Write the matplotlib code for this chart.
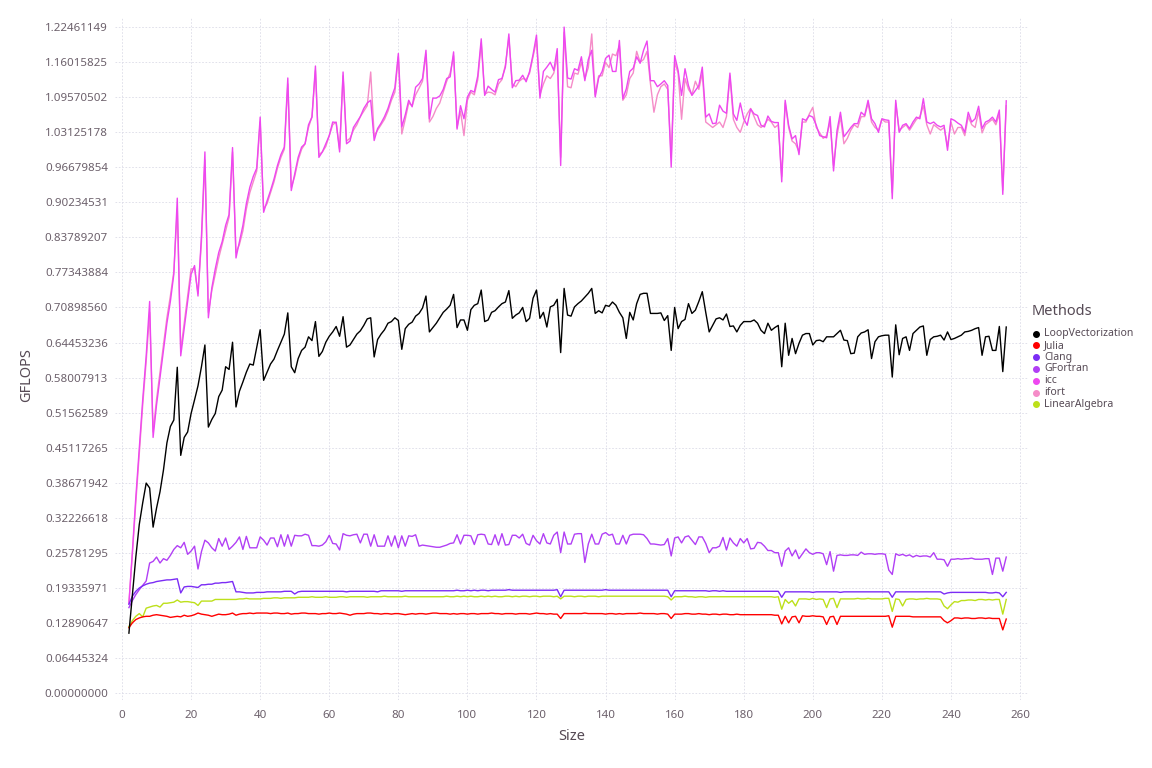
import numpy as np
import matplotlib
matplotlib.use("Agg")
import matplotlib.pyplot as plt
from matplotlib.lines import Line2D

plt.rcParams['font.family'] = ['Noto Sans', 'DejaVu Sans']

sizes = list(range(2, 257))

loop_vectorization = [
    0.110, 0.180, 0.250, 0.310, 0.350, 0.386, 0.377, 0.305, 0.340, 0.370,
    0.410, 0.460, 0.490, 0.502, 0.599, 0.437, 0.470, 0.480, 0.514, 0.539,
    0.565, 0.600, 0.640, 0.489, 0.503, 0.514, 0.545, 0.557, 0.600, 0.595,
    0.645, 0.526, 0.555, 0.572, 0.590, 0.605, 0.603, 0.635, 0.668, 0.575,
    0.590, 0.605, 0.614, 0.630, 0.645, 0.660, 0.699, 0.600, 0.589, 0.615,
    0.630, 0.636, 0.655, 0.648, 0.683, 0.619, 0.628, 0.645, 0.656, 0.664,
    0.674, 0.656, 0.692, 0.636, 0.640, 0.650, 0.660, 0.666, 0.676, 0.688,
    0.690, 0.618, 0.650, 0.660, 0.668, 0.680, 0.683, 0.690, 0.685, 0.632,
    0.670, 0.678, 0.682, 0.693, 0.698, 0.708, 0.730, 0.664, 0.672, 0.680,
    0.690, 0.700, 0.706, 0.713, 0.733, 0.672, 0.686, 0.686, 0.667, 0.705,
    0.713, 0.716, 0.741, 0.683, 0.686, 0.700, 0.703, 0.710, 0.716, 0.719,
    0.740, 0.689, 0.695, 0.699, 0.709, 0.683, 0.689, 0.726, 0.741, 0.689,
    0.700, 0.673, 0.710, 0.713, 0.724, 0.626, 0.744, 0.695, 0.693, 0.710,
    0.716, 0.721, 0.728, 0.735, 0.744, 0.698, 0.703, 0.699, 0.713, 0.711,
    0.719, 0.713, 0.700, 0.690, 0.652, 0.700, 0.686, 0.716, 0.733, 0.735,
    0.735, 0.698, 0.698, 0.698, 0.699, 0.685, 0.694, 0.630, 0.709, 0.670,
    0.683, 0.687, 0.716, 0.698, 0.704, 0.720, 0.738, 0.700, 0.664, 0.676,
    0.688, 0.690, 0.686, 0.697, 0.674, 0.675, 0.664, 0.676, 0.683, 0.683,
    0.683, 0.686, 0.680, 0.667, 0.661, 0.680, 0.667, 0.672, 0.676, 0.600,
    0.680, 0.621, 0.652, 0.624, 0.643, 0.658, 0.661, 0.661, 0.640, 0.648,
    0.649, 0.646, 0.655, 0.655, 0.655, 0.661, 0.667, 0.649, 0.648, 0.624,
    0.625, 0.655, 0.662, 0.664, 0.668, 0.615, 0.646, 0.655, 0.657, 0.658,
    0.658, 0.581, 0.677, 0.622, 0.652, 0.655, 0.630, 0.661, 0.667, 0.673,
    0.675, 0.621, 0.650, 0.655, 0.656, 0.658, 0.649, 0.664, 0.650, 0.652,
    0.655, 0.658, 0.664, 0.665, 0.667, 0.670, 0.672, 0.621, 0.655, 0.656,
    0.630, 0.630, 0.674, 0.591, 0.673,
]

julia = [
    0.120, 0.129, 0.135, 0.138, 0.140, 0.141, 0.141, 0.143, 0.144, 0.143,
    0.142, 0.141, 0.139, 0.140, 0.141, 0.140, 0.143, 0.141, 0.142, 0.144,
    0.147, 0.145, 0.144, 0.143, 0.141, 0.143, 0.145, 0.144, 0.144, 0.145,
    0.147, 0.143, 0.145, 0.146, 0.146, 0.147, 0.146, 0.147, 0.147, 0.147,
    0.147, 0.146, 0.147, 0.147, 0.146, 0.146, 0.147, 0.145, 0.146, 0.146,
    0.147, 0.147, 0.146, 0.146, 0.146, 0.145, 0.146, 0.146, 0.147, 0.146,
    0.146, 0.147, 0.146, 0.145, 0.143, 0.145, 0.146, 0.146, 0.146, 0.147,
    0.147, 0.146, 0.146, 0.145, 0.146, 0.146, 0.145, 0.146, 0.146, 0.145,
    0.144, 0.145, 0.146, 0.145, 0.146, 0.146, 0.145, 0.146, 0.147, 0.147,
    0.146, 0.146, 0.146, 0.145, 0.146, 0.145, 0.146, 0.146, 0.145, 0.146,
    0.146, 0.145, 0.146, 0.146, 0.146, 0.147, 0.146, 0.146, 0.145, 0.146,
    0.146, 0.146, 0.145, 0.146, 0.146, 0.146, 0.145, 0.146, 0.147, 0.146,
    0.146, 0.145, 0.146, 0.145, 0.145, 0.137, 0.146, 0.146, 0.146, 0.146,
    0.146, 0.146, 0.147, 0.146, 0.146, 0.146, 0.146, 0.146, 0.145, 0.146,
    0.146, 0.145, 0.146, 0.145, 0.146, 0.146, 0.146, 0.146, 0.147, 0.146,
    0.146, 0.146, 0.146, 0.145, 0.146, 0.146, 0.145, 0.137, 0.145, 0.145,
    0.145, 0.146, 0.146, 0.145, 0.145, 0.146, 0.145, 0.145, 0.144, 0.145,
    0.145, 0.144, 0.145, 0.145, 0.144, 0.144, 0.145, 0.144, 0.144, 0.144,
    0.144, 0.144, 0.144, 0.144, 0.144, 0.144, 0.144, 0.143, 0.143, 0.127,
    0.141, 0.129, 0.140, 0.141, 0.129, 0.142, 0.141, 0.141, 0.142, 0.141,
    0.141, 0.140, 0.126, 0.140, 0.141, 0.126, 0.141, 0.141, 0.141, 0.141,
    0.141, 0.141, 0.141, 0.141, 0.141, 0.141, 0.141, 0.141, 0.141, 0.141,
    0.142, 0.121, 0.141, 0.141, 0.141, 0.141, 0.141, 0.140, 0.140, 0.140,
    0.140, 0.140, 0.140, 0.140, 0.140, 0.140, 0.133, 0.129, 0.133, 0.138,
    0.138, 0.137, 0.138, 0.138, 0.137, 0.137, 0.138, 0.138, 0.137, 0.138,
    0.137, 0.137, 0.137, 0.116, 0.136,
]

clang = [
    0.163, 0.178, 0.187, 0.193, 0.197, 0.200, 0.202, 0.203, 0.205, 0.206,
    0.207, 0.208, 0.208, 0.209, 0.210, 0.184, 0.195, 0.196, 0.196, 0.195,
    0.194, 0.199, 0.199, 0.200, 0.200, 0.202, 0.202, 0.203, 0.203, 0.204,
    0.205, 0.186, 0.186, 0.185, 0.184, 0.184, 0.184, 0.185, 0.185, 0.185,
    0.186, 0.186, 0.186, 0.186, 0.186, 0.187, 0.187, 0.187, 0.182, 0.186,
    0.187, 0.187, 0.187, 0.187, 0.187, 0.187, 0.187, 0.187, 0.187, 0.187,
    0.187, 0.187, 0.187, 0.186, 0.187, 0.187, 0.187, 0.187, 0.187, 0.187,
    0.187, 0.187, 0.186, 0.188, 0.188, 0.188, 0.188, 0.188, 0.188, 0.187,
    0.188, 0.188, 0.188, 0.188, 0.188, 0.188, 0.188, 0.188, 0.188, 0.188,
    0.188, 0.188, 0.188, 0.188, 0.188, 0.189, 0.188, 0.188, 0.189, 0.188,
    0.189, 0.188, 0.189, 0.189, 0.188, 0.189, 0.189, 0.189, 0.189, 0.189,
    0.190, 0.189, 0.189, 0.189, 0.189, 0.189, 0.189, 0.189, 0.189, 0.189,
    0.189, 0.189, 0.189, 0.189, 0.190, 0.177, 0.189, 0.189, 0.189, 0.189,
    0.189, 0.189, 0.189, 0.189, 0.189, 0.189, 0.189, 0.189, 0.190, 0.189,
    0.189, 0.189, 0.189, 0.189, 0.189, 0.189, 0.189, 0.189, 0.189, 0.189,
    0.189, 0.189, 0.189, 0.189, 0.189, 0.189, 0.189, 0.177, 0.188, 0.188,
    0.188, 0.188, 0.188, 0.188, 0.188, 0.188, 0.188, 0.188, 0.187, 0.188,
    0.188, 0.187, 0.188, 0.187, 0.187, 0.187, 0.187, 0.187, 0.187, 0.187,
    0.187, 0.187, 0.187, 0.187, 0.187, 0.187, 0.187, 0.187, 0.187, 0.176,
    0.186, 0.186, 0.186, 0.186, 0.186, 0.186, 0.186, 0.186, 0.185, 0.186,
    0.186, 0.186, 0.186, 0.186, 0.186, 0.186, 0.185, 0.186, 0.186, 0.186,
    0.186, 0.186, 0.186, 0.186, 0.186, 0.186, 0.186, 0.186, 0.186, 0.186,
    0.186, 0.176, 0.186, 0.186, 0.186, 0.186, 0.186, 0.186, 0.186, 0.186,
    0.186, 0.186, 0.186, 0.186, 0.186, 0.186, 0.182, 0.184, 0.185, 0.185,
    0.185, 0.185, 0.185, 0.185, 0.185, 0.185, 0.185, 0.185, 0.185, 0.184,
    0.184, 0.185, 0.184, 0.177, 0.185,
]

gfortran = [
    0.157, 0.170, 0.181, 0.190, 0.198, 0.206, 0.239, 0.242, 0.250, 0.239,
    0.247, 0.244, 0.253, 0.264, 0.271, 0.267, 0.277, 0.255, 0.261, 0.270,
    0.228, 0.260, 0.281, 0.276, 0.267, 0.261, 0.284, 0.270, 0.285, 0.264,
    0.270, 0.277, 0.287, 0.264, 0.288, 0.267, 0.267, 0.267, 0.287, 0.281,
    0.272, 0.285, 0.285, 0.269, 0.291, 0.270, 0.291, 0.270, 0.290, 0.289,
    0.289, 0.292, 0.290, 0.271, 0.271, 0.270, 0.272, 0.278, 0.290, 0.275,
    0.274, 0.263, 0.293, 0.290, 0.289, 0.291, 0.292, 0.276, 0.292, 0.292,
    0.270, 0.291, 0.270, 0.270, 0.270, 0.289, 0.270, 0.289, 0.267, 0.289,
    0.270, 0.289, 0.288, 0.291, 0.270, 0.272, 0.271, 0.270, 0.269, 0.268,
    0.268, 0.270, 0.272, 0.275, 0.276, 0.291, 0.274, 0.290, 0.290, 0.289,
    0.273, 0.291, 0.292, 0.291, 0.274, 0.273, 0.291, 0.272, 0.293, 0.272,
    0.273, 0.290, 0.290, 0.285, 0.292, 0.275, 0.272, 0.290, 0.280, 0.274,
    0.293, 0.276, 0.274, 0.290, 0.296, 0.258, 0.296, 0.274, 0.274, 0.292,
    0.293, 0.293, 0.240, 0.274, 0.292, 0.274, 0.274, 0.292, 0.295, 0.290,
    0.292, 0.274, 0.274, 0.290, 0.274, 0.290, 0.292, 0.292, 0.292, 0.291,
    0.284, 0.274, 0.274, 0.273, 0.272, 0.273, 0.284, 0.252, 0.285, 0.287,
    0.276, 0.287, 0.289, 0.281, 0.273, 0.287, 0.287, 0.275, 0.258, 0.267,
    0.267, 0.270, 0.286, 0.263, 0.285, 0.276, 0.270, 0.284, 0.276, 0.284,
    0.265, 0.266, 0.277, 0.276, 0.270, 0.262, 0.262, 0.258, 0.258, 0.233,
    0.261, 0.267, 0.252, 0.263, 0.247, 0.256, 0.265, 0.258, 0.255, 0.258,
    0.258, 0.256, 0.236, 0.260, 0.224, 0.253, 0.254, 0.253, 0.253, 0.254,
    0.254, 0.253, 0.259, 0.255, 0.256, 0.256, 0.255, 0.256, 0.256, 0.255,
    0.226, 0.218, 0.256, 0.253, 0.255, 0.252, 0.254, 0.250, 0.253, 0.251,
    0.252, 0.252, 0.250, 0.258, 0.246, 0.246, 0.245, 0.233, 0.246, 0.246,
    0.247, 0.246, 0.247, 0.247, 0.248, 0.246, 0.246, 0.246, 0.247, 0.247,
    0.218, 0.248, 0.248, 0.224, 0.250,
]

icc = [
    0.165, 0.260, 0.360, 0.450, 0.540, 0.620, 0.720, 0.470, 0.530, 0.580,
    0.630, 0.680, 0.720, 0.770, 0.910, 0.620, 0.670, 0.720, 0.770, 0.786,
    0.730, 0.840, 0.995, 0.690, 0.745, 0.780, 0.810, 0.830, 0.860, 0.880,
    1.003, 0.800, 0.830, 0.860, 0.900, 0.930, 0.950, 0.965, 1.059, 0.884,
    0.905, 0.924, 0.945, 0.970, 0.990, 1.004, 1.131, 0.924, 0.955, 0.985,
    1.004, 1.010, 1.045, 1.059, 1.153, 0.985, 0.995, 1.010, 1.025, 1.050,
    1.049, 0.995, 1.142, 1.010, 1.015, 1.040, 1.050, 1.060, 1.075, 1.085,
    1.090, 1.016, 1.038, 1.048, 1.060, 1.075, 1.095, 1.113, 1.176, 1.041,
    1.063, 1.090, 1.078, 1.114, 1.120, 1.130, 1.182, 1.056, 1.094, 1.094,
    1.098, 1.110, 1.130, 1.133, 1.179, 1.037, 1.080, 1.056, 1.096, 1.108,
    1.105, 1.135, 1.203, 1.099, 1.116, 1.110, 1.105, 1.128, 1.130, 1.151,
    1.212, 1.113, 1.126, 1.127, 1.136, 1.124, 1.143, 1.174, 1.210, 1.094,
    1.143, 1.151, 1.160, 1.145, 1.185, 0.970, 1.2246, 1.131, 1.129, 1.148,
    1.145, 1.170, 1.126, 1.165, 1.182, 1.096, 1.131, 1.143, 1.167, 1.173,
    1.143, 1.143, 1.200, 1.093, 1.111, 1.143, 1.149, 1.170, 1.158, 1.182,
    1.199, 1.126, 1.126, 1.115, 1.120, 1.126, 1.117, 0.967, 1.172, 1.145,
    1.099, 1.148, 1.117, 1.099, 1.108, 1.117, 1.151, 1.059, 1.065, 1.047,
    1.048, 1.081, 1.070, 1.066, 1.140, 1.065, 1.053, 1.085, 1.056, 1.044,
    1.074, 1.065, 1.062, 1.044, 1.041, 1.061, 1.051, 1.049, 1.049, 0.940,
    1.090, 1.044, 1.019, 1.025, 0.990, 1.056, 1.053, 1.062, 1.059, 1.044,
    1.025, 1.023, 1.021, 1.060, 0.960, 1.034, 1.068, 1.023, 1.031, 1.040,
    1.047, 1.047, 1.068, 1.062, 1.090, 1.056, 1.047, 1.031, 1.056, 1.054,
    1.053, 0.909, 1.090, 1.031, 1.044, 1.047, 1.038, 1.050, 1.059, 1.056,
    1.093, 1.050, 1.047, 1.050, 1.044, 1.041, 1.044, 0.998, 1.056, 1.053,
    1.048, 1.044, 1.031, 1.068, 1.050, 1.056, 1.079, 1.038, 1.050, 1.053,
    1.059, 1.050, 1.072, 0.917, 1.089,
]

ifort = [
    0.165, 0.255, 0.350, 0.440, 0.530, 0.610, 0.700, 0.480, 0.540, 0.590,
    0.640, 0.690, 0.730, 0.775, 0.890, 0.630, 0.680, 0.730, 0.780, 0.780,
    0.735, 0.830, 0.980, 0.700, 0.740, 0.770, 0.800, 0.825, 0.850, 0.875,
    0.995, 0.810, 0.825, 0.850, 0.890, 0.920, 0.940, 0.960, 1.050, 0.890,
    0.900, 0.920, 0.940, 0.965, 0.985, 1.000, 1.120, 0.930, 0.950, 0.980,
    1.000, 1.010, 1.040, 1.060, 1.145, 0.990, 0.995, 1.005, 1.025, 1.045,
    1.050, 1.000, 1.135, 1.015, 1.020, 1.035, 1.045, 1.060, 1.070, 1.080,
    1.142, 1.025, 1.035, 1.045, 1.055, 1.070, 1.090, 1.105, 1.170, 1.028,
    1.055, 1.085, 1.080, 1.100, 1.112, 1.125, 1.175, 1.050, 1.060, 1.075,
    1.085, 1.105, 1.125, 1.140, 1.172, 1.040, 1.070, 1.025, 1.090, 1.105,
    1.100, 1.128, 1.195, 1.101, 1.105, 1.104, 1.100, 1.120, 1.128, 1.155,
    1.205, 1.120, 1.115, 1.125, 1.130, 1.128, 1.140, 1.170, 1.200, 1.100,
    1.120, 1.135, 1.130, 1.140, 1.170, 0.985, 1.215, 1.115, 1.113, 1.140,
    1.138, 1.160, 1.130, 1.150, 1.212, 1.100, 1.135, 1.135, 1.160, 1.150,
    1.175, 1.172, 1.190, 1.090, 1.100, 1.130, 1.140, 1.180, 1.160, 1.165,
    1.180, 1.120, 1.068, 1.100, 1.115, 1.120, 1.110, 0.985, 1.160, 1.140,
    1.055, 1.130, 1.110, 1.100, 1.125, 1.110, 1.140, 1.050, 1.045, 1.040,
    1.045, 1.050, 1.040, 1.060, 1.135, 1.055, 1.040, 1.031, 1.050, 1.065,
    1.075, 1.060, 1.045, 1.040, 1.045, 1.055, 1.050, 1.040, 1.045, 0.950,
    1.085, 1.040, 1.015, 1.010, 0.995, 1.050, 1.050, 1.065, 1.077, 1.040,
    1.030, 1.020, 1.025, 1.050, 0.970, 1.025, 1.060, 1.010, 1.020, 1.035,
    1.045, 1.040, 1.060, 1.060, 1.085, 1.050, 1.040, 1.035, 1.055, 1.050,
    1.050, 0.920, 1.085, 1.035, 1.040, 1.045, 1.035, 1.045, 1.055, 1.060,
    1.080, 1.045, 1.028, 1.045, 1.040, 1.035, 1.040, 1.005, 1.050, 1.028,
    1.040, 1.040, 1.025, 1.060, 1.045, 1.040, 1.070, 1.030, 1.045, 1.050,
    1.055, 1.045, 1.065, 0.925, 1.080,
]

linear_algebra = [
    0.122, 0.133, 0.141, 0.146, 0.140, 0.156, 0.158, 0.160, 0.161, 0.158,
    0.165, 0.165, 0.166, 0.167, 0.171, 0.167, 0.168, 0.168, 0.167, 0.166,
    0.161, 0.169, 0.169, 0.169, 0.169, 0.172, 0.172, 0.172, 0.172, 0.172,
    0.172, 0.172, 0.173, 0.173, 0.174, 0.173, 0.173, 0.173, 0.173, 0.174,
    0.174, 0.174, 0.175, 0.175, 0.174, 0.175, 0.175, 0.175, 0.175, 0.176,
    0.176, 0.176, 0.176, 0.177, 0.176, 0.176, 0.176, 0.177, 0.176, 0.176,
    0.176, 0.177, 0.177, 0.176, 0.177, 0.177, 0.177, 0.177, 0.177, 0.176,
    0.177, 0.177, 0.177, 0.177, 0.178, 0.177, 0.177, 0.177, 0.177, 0.177,
    0.178, 0.177, 0.177, 0.177, 0.177, 0.177, 0.177, 0.177, 0.177, 0.177,
    0.177, 0.177, 0.178, 0.177, 0.177, 0.178, 0.177, 0.178, 0.177, 0.178,
    0.177, 0.177, 0.178, 0.177, 0.178, 0.177, 0.178, 0.177, 0.177, 0.178,
    0.178, 0.177, 0.178, 0.177, 0.178, 0.178, 0.177, 0.178, 0.178, 0.177,
    0.178, 0.178, 0.178, 0.177, 0.178, 0.173, 0.178, 0.178, 0.178, 0.177,
    0.178, 0.178, 0.177, 0.178, 0.178, 0.178, 0.177, 0.178, 0.178, 0.178,
    0.178, 0.178, 0.178, 0.178, 0.178, 0.178, 0.178, 0.178, 0.178, 0.178,
    0.178, 0.178, 0.178, 0.178, 0.178, 0.178, 0.177, 0.171, 0.177, 0.177,
    0.177, 0.178, 0.177, 0.177, 0.176, 0.177, 0.177, 0.176, 0.177, 0.177,
    0.177, 0.177, 0.177, 0.177, 0.177, 0.177, 0.177, 0.177, 0.177, 0.177,
    0.177, 0.177, 0.177, 0.177, 0.177, 0.177, 0.177, 0.176, 0.177, 0.154,
    0.172, 0.165, 0.170, 0.160, 0.173, 0.173, 0.173, 0.172, 0.174, 0.172,
    0.173, 0.172, 0.157, 0.173, 0.174, 0.157, 0.173, 0.173, 0.173, 0.173,
    0.173, 0.174, 0.173, 0.173, 0.174, 0.173, 0.173, 0.173, 0.173, 0.174,
    0.174, 0.150, 0.173, 0.172, 0.160, 0.172, 0.173, 0.173, 0.172, 0.173,
    0.173, 0.174, 0.173, 0.173, 0.173, 0.172, 0.160, 0.155, 0.162, 0.168,
    0.167, 0.170, 0.170, 0.171, 0.171, 0.170, 0.172, 0.172, 0.171, 0.172,
    0.171, 0.172, 0.172, 0.145, 0.172,
]

methods = ["LoopVectorization", "Julia", "Clang", "GFortran", "icc", "ifort", "LinearAlgebra"]
colors = ["#000000", "#ff0000", "#7b2cf5", "#b13ff5", "#ee47f0", "#f58cc8", "#bde01a"]
series = [loop_vectorization, julia, clang, gfortran, icc, ifort, linear_algebra]

y_ticks = [0.00000000, 0.06445324, 0.12890647, 0.19335971, 0.25781295,
           0.32226618, 0.38671942, 0.45117265, 0.51562589, 0.58007913,
           0.64453236, 0.70898560, 0.77343884, 0.83789207, 0.90234531,
           0.96679854, 1.03125178, 1.09570502, 1.16015825, 1.22461149]
x_ticks = [0, 20, 40, 60, 80, 100, 120, 140, 160, 180, 200, 220, 240, 260]

W, H = 1152, 768
fig = plt.figure(figsize=(W / 100, H / 100), dpi=100)
ax = fig.add_axes([115 / W, 1 - 700 / H, (1028 - 115) / W, (700 - 18) / H])

draw_order = [6, 5, 4, 3, 2, 1, 0]
for i in draw_order:
    ax.plot(sizes, series[i], color=colors[i], lw=1.0, zorder=3 + (6 - i))

ax.set_xlim(-2.03, 262.3)
ax.set_ylim(-0.0129, 1.2413)
ax.set_xticks(x_ticks)
ax.set_xticklabels([str(t) for t in x_ticks])
ax.set_yticks(y_ticks)
ax.set_yticklabels([f"{t:.8f}" for t in y_ticks])
for s in ax.spines.values():
    s.set_visible(False)
ax.tick_params(length=0, labelsize=8.3, labelcolor="#6c606b")
ax.tick_params(axis='y', pad=5)
ax.tick_params(axis='x', pad=7)
ax.grid(True, color="#dcdce8", lw=0.6, ls=(0, (2.0, 2.0)), zorder=0)

fig.text(27 / W, 1 - 375 / H, "GFLOPS", rotation=90, ha='center', va='center',
         fontsize=10.5, color="#564a55")
fig.text(572 / W, 1 - 737 / H, "Size", ha='center', va='center',
         fontsize=10.5, color="#564a55")

# legend (drawn manually to match spacing)
fig.text(1032 / W, 1 - 311 / H, "Methods", ha='left', va='center',
         fontsize=10.5, color="#564a55")
for i, (name, c) in enumerate(zip(methods, colors)):
    yy = 1 - (333.5 + 11.8 * i) / H
    fig.add_artist(Line2D([1036 / W], [yy], transform=fig.transFigure,
                          ls='none', marker='o', markersize=4.0, color=c))
    fig.text(1044 / W, yy, name, ha='left', va='center', fontsize=7.5, color="#564a55")

fig.savefig("out.png", dpi=100)
